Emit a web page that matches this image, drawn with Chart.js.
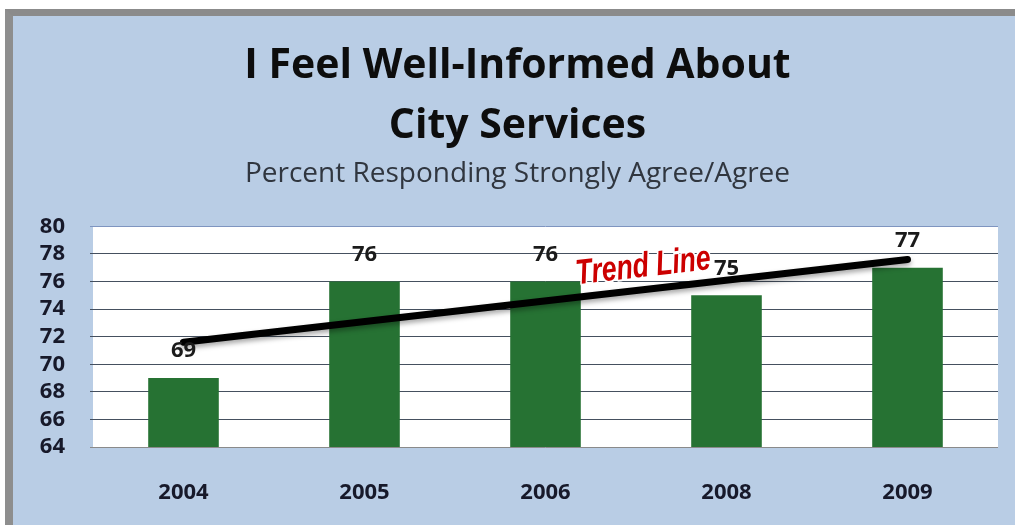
<!DOCTYPE html>
<html>
<head>
<meta charset="utf-8">
<script src="https://cdn.jsdelivr.net/npm/chart.js@4"></script>
<style>
  html, body { margin: 0; padding: 0; background: #ffffff; }
  #frame {
    position: absolute;
    left: 5px;
    top: 9px;
    width: 1002px;
    height: 509px;
    background: #b9cde5;
    border-top: 7px solid #8b8b8b;
    border-left: 8px solid #8e8e8e;
  }
  #chart { display: block; }
</style>
</head>
<body>
<div id="frame"><canvas id="chart" width="1002" height="509"></canvas></div>
<script>
// survey results
const years = ['2004', '2005', '2006', '2008', '2009'];
const agreePct = [69, 76, 76, 75, 77];
// least-squares trend, first and last year only
const trendValues = [71.6, null, null, null, 77.6];
const yTicks = [64, 66, 68, 70, 72, 74, 76, 78, 80];

const titleLines = ['I Feel Well-Informed About', 'City Services'];
const subtitleText = 'Percent Responding Strongly Agree/Agree';
const trendLabel = 'Trend Line';

const FONT = '"Open Sans", sans-serif';

// white plot area behind the grid
const plotBackground = {
  id: 'plotBackground',
  beforeDraw(chart) {
    const { ctx, chartArea: a } = chart;
    ctx.save();
    ctx.fillStyle = '#ffffff';
    ctx.fillRect(a.left, a.top, a.right - a.left, a.bottom - a.top);
    ctx.restore();
  }
};

// soft drop shadow under the trend line
const lineShadow = {
  id: 'lineShadow',
  beforeDatasetDraw(chart, args) {
    if (args.index !== 1) return;
    const ctx = chart.ctx;
    ctx.save();
    ctx.shadowColor = 'rgba(0, 0, 0, 0.35)';
    ctx.shadowBlur = 5;
    ctx.shadowOffsetY = 3;
  },
  afterDatasetDraw(chart, args) {
    if (args.index !== 1) return;
    chart.ctx.restore();
  }
};

// value labels above bars + the "Trend Line" callout
const labels = {
  id: 'labels',
  afterDraw(chart) {
    const ctx = chart.ctx;
    const meta = chart.getDatasetMeta(0);
    ctx.save();
    ctx.font = 'bold 22px ' + FONT;
    ctx.fillStyle = '#1b1b1b';
    ctx.textAlign = 'center';
    ctx.textBaseline = 'middle';
    meta.data.forEach((bar, i) => {
      ctx.fillText(String(agreePct[i]), bar.x, bar.y - 27);
    });
    ctx.restore();

    const xs = chart.scales.x, ys = chart.scales.y;
    const px = xs.getPixelForValue(2.54);
    const py = ys.getPixelForValue(77.05);
    ctx.save();
    ctx.translate(px, py);
    ctx.rotate(-6.5 * Math.PI / 180);
    ctx.scale(0.76, 1);
    ctx.font = 'italic bold 35px "Liberation Sans", Arial, sans-serif';
    ctx.textAlign = 'center';
    ctx.textBaseline = 'middle';
    ctx.lineJoin = 'round';
    ctx.lineWidth = 4;
    ctx.strokeStyle = '#ffffff';
    ctx.strokeText(trendLabel, 0, 0);
    ctx.fillStyle = '#cc0000';
    ctx.fillText(trendLabel, 0, 0);
    ctx.restore();
  }
};

new Chart(document.getElementById('chart'), {
  data: {
    labels: years,
    datasets: [
      {
        type: 'bar',
        data: agreePct,
        backgroundColor: '#267233',
        borderWidth: 0,
        barPercentage: 0.39,
        categoryPercentage: 1,
        order: 1
      },
      {
        type: 'line',
        data: trendValues,
        spanGaps: true,
        borderColor: '#000000',
        borderWidth: 7,
        borderCapStyle: 'round',
        pointRadius: 0,
        order: 0
      }
    ]
  },
  options: {
    responsive: false,
    animation: false,
    layout: { padding: { left: 24, right: 17, top: 0, bottom: 0 } },
    plugins: {
      legend: { display: false },
      tooltip: { enabled: false },
      title: {
        display: true,
        text: titleLines,
        color: '#0d0d0d',
        font: { family: FONT, size: 41, weight: 'bold', lineHeight: 1.47 },
        padding: { top: 20, bottom: 0 }
      },
      subtitle: {
        display: true,
        text: subtitleText,
        color: '#30363f',
        font: { family: FONT, size: 28, weight: 'normal', lineHeight: 1.1 },
        padding: { top: 2, bottom: 37 }
      }
    },
    scales: {
      x: {
        grid: { display: false },
        border: { display: false },
        ticks: {
          color: '#17192a',
          font: { family: FONT, size: 22, weight: 'bold' },
          padding: 25
        },
        afterFit(scale) { scale.height = 78; }
      },
      y: {
        min: 64,
        max: 80,
        afterBuildTicks(scale) { scale.ticks = yTicks.map(v => ({ value: v })); },
        grid: {
          tickLength: 3,
          color: ctx => ctx.tick && ctx.tick.value === 80 ? '#7f95c0' : (ctx.tick && ctx.tick.value === 64 ? '#8a8a8a' : '#45505f'),
          lineWidth: 1
        },
        border: { display: false },
        ticks: {
          autoSkip: false,
          color: '#17192a',
          font: { family: FONT, size: 22, weight: 'bold' },
          padding: 25
        },
        afterFit(scale) { scale.width = 56; }
      }
    }
  },
  plugins: [plotBackground, lineShadow, labels]
});
</script>
</body>
</html>
